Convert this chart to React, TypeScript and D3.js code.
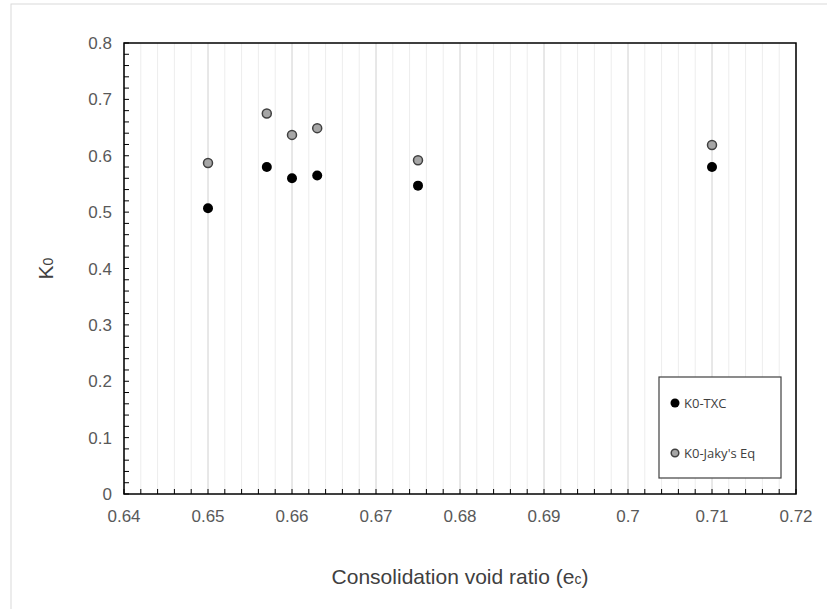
import React from "react";
import * as d3 from "d3";

const voidRatios = [0.65, 0.657, 0.66, 0.663, 0.675, 0.71];
const k0Txc = [0.507, 0.58, 0.56, 0.565, 0.547, 0.58];
const k0Jaky = [0.587, 0.675, 0.637, 0.649, 0.592, 0.619];
const xTicks = [0.64, 0.65, 0.66, 0.67, 0.68, 0.69, 0.7, 0.71, 0.72];
const yTicks = [0, 0.1, 0.2, 0.3, 0.4, 0.5, 0.6, 0.7, 0.8];
const legendLabels = ["K0-TXC", "K0-Jaky's Eq"];

const W = 827;
const H = 609;
const L = 124, R = 796, T = 43, B = 494;

export default function App() {
  const x = d3.scaleLinear().domain([0.64, 0.72]).range([L, R]);
  const y = d3.scaleLinear().domain([0, 0.8]).range([B, T]);
  const xMinor = d3.range(0, 41).map((i) => 0.64 + i * 0.002);
  const yMinor = d3.range(0, 41).map((i) => i * 0.02);
  const font = "'Liberation Sans', Arial, sans-serif";
  const legFont = "'Open Sans', 'Liberation Sans', sans-serif";
  return (
    <svg width={W} height={H} style={{ position: "fixed", left: 0, top: 0 }}>
      <rect x={0} y={0} width={W} height={H} fill="#fff" />
      <rect x={11} y={4} width={W} height={H} fill="none" stroke="#d9d9d9" strokeWidth={1} />
      {xMinor.map((v, i) => (
        <line key={"gm" + i} x1={x(v)} x2={x(v)} y1={T} y2={B}
          stroke={i % 5 === 0 ? "#d0d0d0" : "#ededed"} strokeWidth={1} />
      ))}
      {xMinor.map((v, i) => (
        <line key={"xt" + i} x1={x(v)} x2={x(v)} y1={B} y2={B - 5} stroke="#000" strokeWidth={1} />
      ))}
      {yMinor.map((v, i) => (
        <line key={"yt" + i} x1={L} x2={L + 5} y1={y(v)} y2={y(v)} stroke="#000" strokeWidth={1} />
      ))}
      <rect x={L} y={T} width={R - L} height={B - T} fill="none" stroke="#000" strokeWidth={1.5} />
      {xTicks.map((v, i) => (
        <text key={"xl" + i} x={x(v)} y={B + 28} textAnchor="middle" fontFamily={font} fontSize={17} fill="#595959">
          {d3.format("~g")(v)}
        </text>
      ))}
      {yTicks.map((v, i) => (
        <text key={"yl" + i} x={L - 12} y={y(v) + 6} textAnchor="end" fontFamily={font} fontSize={17} fill="#595959">
          {d3.format("~g")(v)}
        </text>
      ))}
      <text x={(L + R) / 2} y={584} textAnchor="middle" fontFamily={font} fontSize={21} fill="#404040">
        Consolidation void ratio (e<tspan fontSize={14}>c</tspan>)
      </text>
      <text transform={`translate(53,${(T + B) / 2}) rotate(-90)`} textAnchor="middle" fontFamily={font} fontSize={21} fill="#404040">
        K<tspan fontSize={14}>0</tspan>
      </text>
      {voidRatios.map((v, i) => (
        <circle key={"j" + i} cx={x(v)} cy={y(k0Jaky[i])} r={4.5} fill="#a6a6a6" stroke="#404040" strokeWidth={1.5} />
      ))}
      {voidRatios.map((v, i) => (
        <circle key={"t" + i} cx={x(v)} cy={y(k0Txc[i])} r={5} fill="#000" />
      ))}
      <rect x={659} y={377} width={122} height={101} fill="#fff" stroke="#404040" strokeWidth={1.2} />
      <circle cx={675} cy={403} r={4.5} fill="#000" />
      <text x={684} y={408} fontFamily={legFont} fontSize={13} fill="#404040">{legendLabels[0]}</text>
      <circle cx={675} cy={453} r={3.8} fill="#a6a6a6" stroke="#404040" strokeWidth={1.5} />
      <text x={684} y={458} fontFamily={legFont} fontSize={13} fill="#404040">{legendLabels[1]}</text>
    </svg>
  );
}
